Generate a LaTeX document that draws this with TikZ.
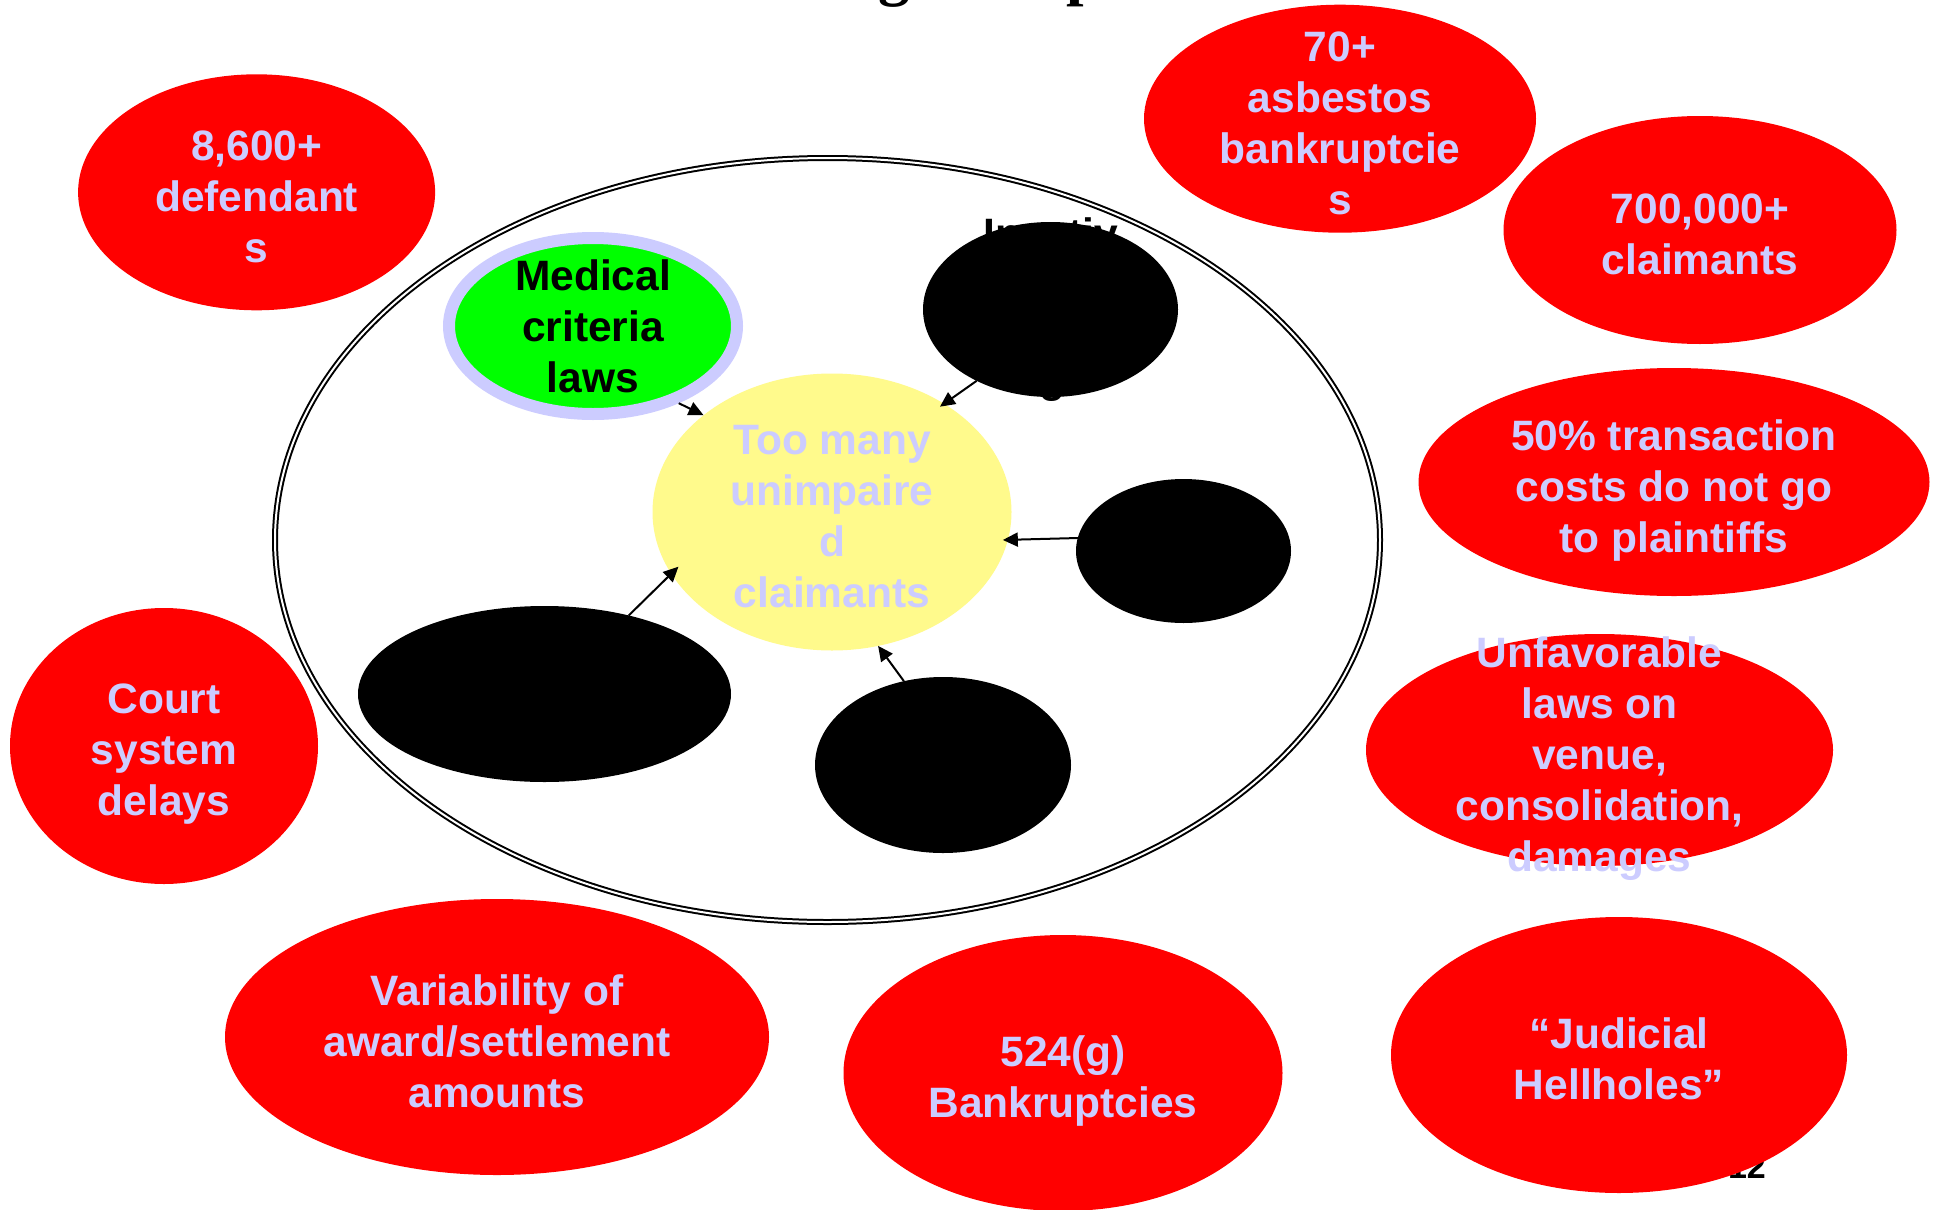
\documentclass[tikz,border=0pt]{standalone}
\usepackage{fontspec}
\setmainfont{Liberation Sans}
\newfontfamily\titlefont{Liberation Serif}
\usetikzlibrary{shapes.geometric,arrows.meta}
\definecolor{lav}{RGB}{204,204,255}
\definecolor{pyellow}{RGB}{255,250,140}
\definecolor{pgreen}{RGB}{0,255,0}
\definecolor{pred}{RGB}{255,0,0}
\begin{document}
\begin{tikzpicture}[x=1pt,y=-1pt,
  ell/.style={ellipse, inner sep=0pt, outer sep=0pt},
  redell/.style={ell, fill=pred},
  blackell/.style={ell, fill=black},
  txt/.style={align=center, inner sep=0pt, font=\fontsize{42.5}{51}\selectfont\bfseries},
  ctxt/.style={txt, text depth=0pt, yshift=-4pt},
  lavtxt/.style={ctxt, text=lav},
  arr/.style={line width=2pt, -{Triangle[length=15pt,width=14pt]}}]
\path[use as bounding box, fill=white] (0,0) rectangle (1939,1210);
\clip (0,0) rectangle (1939,1210);

% title fragments (cut off at the top)
\node[anchor=base west, inner sep=0pt, font=\fontsize{63}{70}\selectfont\titlefont\bfseries] (titleg) at (878,-7) {g};
\node[anchor=base west, inner sep=0pt, font=\fontsize{63}{70}\selectfont\titlefont\bfseries] (titlep) at (1066,-7) {p};

% page number (mostly hidden)
\node[anchor=base east, inner sep=0pt, font=\fontsize{34}{40}\selectfont\bfseries] (pnum) at (1766,1178) {12};

% big double ellipse
\node[ell, draw=black, line width=2pt, double=white, double distance=2pt,
      minimum width=1105, minimum height=764] (frame) at (827.5,540) {};

% inner ellipses
\node[ell, fill=pyellow, minimum width=359, minimum height=277] (yel) at (832,512) {};
\node[lavtxt] (yeltxt) at (yel.center) {Too many\\unimpaire\\d\\claimants};

\node[ell, fill=pgreen, draw=lav, line width=12pt, outer sep=6pt,
      minimum width=288, minimum height=176] (grn) at (593,326) {};
\node[ctxt, yshift=4pt] (grntxt) at (grn.center) {Medical\\criteria\\laws};

\node[blackell, minimum width=255, minimum height=175] (bA) at (1050.5,309.5) {};
\node[txt, anchor=base] (bAtop) at (1051,248.5) {Inactiv};
\node[txt, anchor=base] (bAbot) at (1052,392) {g};
\node[blackell, minimum width=215, minimum height=144] (bB) at (1183.5,551) {};
\node[blackell, minimum width=373, minimum height=176] (bC) at (544.5,694) {};
\node[blackell, minimum width=256, minimum height=176] (bD) at (943,765) {};

% arrows
\draw[arr] (grn.318) -- (yel.143.6);
\draw[arr, shorten >=-5pt] (bA.224.6) -- (yel.44.7);
\draw[arr, shorten >=-5pt] (bB.173) -- (yel.351.4);
\draw[arr, shorten >=-10pt] (bC.43.2) -- (yel.201.3);
\draw[arr] (bD.115.5) -- (yel.289.3);

% red ellipses
\node[redell, minimum width=357, minimum height=236] (def) at (256.6,192.3) {};
\node[lavtxt] at (def.center) {8,600+\\defendant\\s};
\node[redell, minimum width=392, minimum height=228] (bk) at (1340,118.7) {};
\node[lavtxt] at (bk.center) {70+\\asbestos\\bankruptcie\\s};
\node[redell, minimum width=393, minimum height=228] (clm) at (1700,230) {};
\node[lavtxt] at (clm.center) {700,000+\\claimants};
\node[redell, minimum width=511, minimum height=228] (tc) at (1674,482) {};
\node[lavtxt] at (tc.center) {50\% transaction\\costs do not go\\to plaintiffs};
\node[redell, minimum width=467, minimum height=232] (unf) at (1599.5,750) {};
\node[lavtxt] at (unf.center) {Unfavorable\\laws on\\venue,\\consolidation,\\damages};
\node[redell, minimum width=308, minimum height=276] (court) at (164,746) {};
\node[lavtxt] at (court.center) {Court\\system\\delays};
\node[redell, minimum width=544, minimum height=276] (var) at (497,1037) {};
\node[lavtxt] at (var.center) {Variability of\\award/settlement\\amounts};
\node[redell, minimum width=439, minimum height=276] (g524) at (1063,1073) {};
\node[lavtxt] at (g524.center) {524(g)\\Bankruptcies};
\node[redell, minimum width=456, minimum height=276] (jh) at (1619,1055) {};
\node[lavtxt] at (jh.center) {“Judicial\\Hellholes”};
\end{tikzpicture}
\end{document}
